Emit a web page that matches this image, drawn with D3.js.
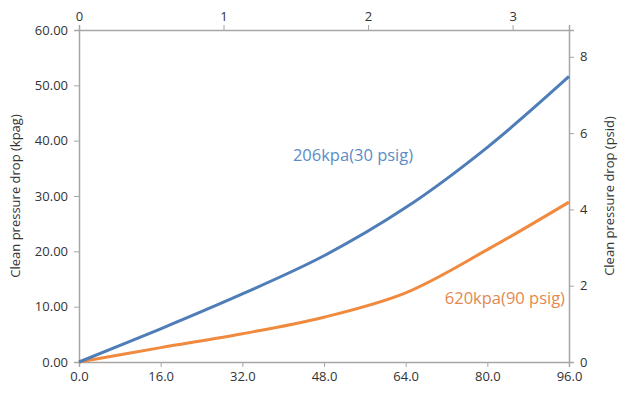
<!DOCTYPE html>
<html>
<head>
<meta charset="utf-8">
<script src="https://cdn.jsdelivr.net/npm/d3@7"></script>
<style>
  body { margin: 0; background: #fff; }
  text { font-family: "Open Sans", "Noto Sans", sans-serif; }
  .axis path, .axis line { stroke: #a6a6a6; }
  .axis text { fill: #333; font-size: 13px; }
</style>
</head>
<body>
<script>
// flow, L/min (bottom) -> cfm (top)
var flow = [0, 16, 32, 48, 64, 80, 96];
var dp206 = [0, 6.0, 12.3, 19.2, 27.9, 38.8, 51.6];
var dp620 = [0, 2.6, 5.1, 8.1, 12.5, 20.3, 28.9];
var bottomTicks = [0, 16, 32, 48, 64, 80, 96];
var leftTicks = [0, 10, 20, 30, 40, 50, 60];
var topTicks = [0, 1, 2, 3];
var rightTicks = [0, 2, 4, 6, 8];

var W = 618, H = 394;
var m = {left: 79, right: 49, top: 30, bottom: 32};

var svg = d3.select("body").append("svg")
    .attr("width", W)
    .attr("height", H);

var x = d3.scaleLinear().domain([0, 96]).range([m.left, W - m.right]);
var y = d3.scaleLinear().domain([0, 60]).range([H - m.bottom, m.top]);
var xTop = d3.scaleLinear().domain([0, 96 / 28.317]).range([m.left, W - m.right]);
var yRight = d3.scaleLinear().domain([0, 60 / 6.895]).range([H - m.bottom, m.top]);

svg.append("g").attr("class", "axis")
    .attr("transform", "translate(0," + (H - m.bottom) + ")")
    .call(d3.axisBottom(x).tickValues(bottomTicks).tickFormat(d3.format(".1f")).tickSizeOuter(0).tickSize(5).tickPadding(5));

svg.append("g").attr("class", "axis")
    .attr("transform", "translate(" + m.left + ",0)")
    .call(d3.axisLeft(y).tickValues(leftTicks).tickFormat(d3.format(".2f")).tickSizeOuter(0).tickSize(5).tickPadding(6));

svg.append("g").attr("class", "axis")
    .attr("transform", "translate(0," + m.top + ")")
    .call(d3.axisTop(xTop).tickValues(topTicks).tickFormat(d3.format("d")).tickSizeOuter(0).tickSize(5).tickPadding(4));

svg.append("g").attr("class", "axis")
    .attr("transform", "translate(" + (W - m.right) + ",0)")
    .call(d3.axisRight(yRight).tickValues(rightTicks).tickFormat(d3.format("d")).tickSizeOuter(0).tickSize(5).tickPadding(6));

svg.selectAll(".axis path").attr("stroke-width", 1.5);

var line = function(vals) {
  return d3.line()
      .x(function(d, i) { return x(flow[i]); })
      .y(function(d) { return y(d); })
      .curve(d3.curveCatmullRom.alpha(0.5))(vals);
};

svg.append("path")
    .attr("d", line(dp620))
    .attr("fill", "none")
    .attr("stroke", "#f08a3e")
    .attr("stroke-width", 3);

svg.append("path")
    .attr("d", line(dp206))
    .attr("fill", "none")
    .attr("stroke", "#4e7db8")
    .attr("stroke-width", 3);

svg.append("text")
    .attr("x", 353).attr("y", 161)
    .attr("text-anchor", "middle")
    .attr("fill", "#5b8cc6")
    .style("font-size", "16.5px")
    .text("206kpa(30 psig)");

svg.append("text")
    .attr("x", 565).attr("y", 304)
    .attr("text-anchor", "end")
    .attr("fill", "#e3894f")
    .style("font-size", "16.5px")
    .text("620kpa(90 psig)");

svg.append("text")
    .attr("transform", "translate(20," + (m.top + (H - m.bottom - m.top) / 2) + ") rotate(-90)")
    .attr("text-anchor", "middle")
    .attr("fill", "#333")
    .style("font-size", "13px")
    .text("Clean pressure drop (kpag)");

svg.append("text")
    .attr("transform", "translate(614," + (m.top + (H - m.bottom - m.top) / 2) + ") rotate(-90)")
    .attr("text-anchor", "middle")
    .attr("fill", "#333")
    .style("font-size", "13px")
    .text("Clean pressure drop (psid)");
</script>
</body>
</html>
